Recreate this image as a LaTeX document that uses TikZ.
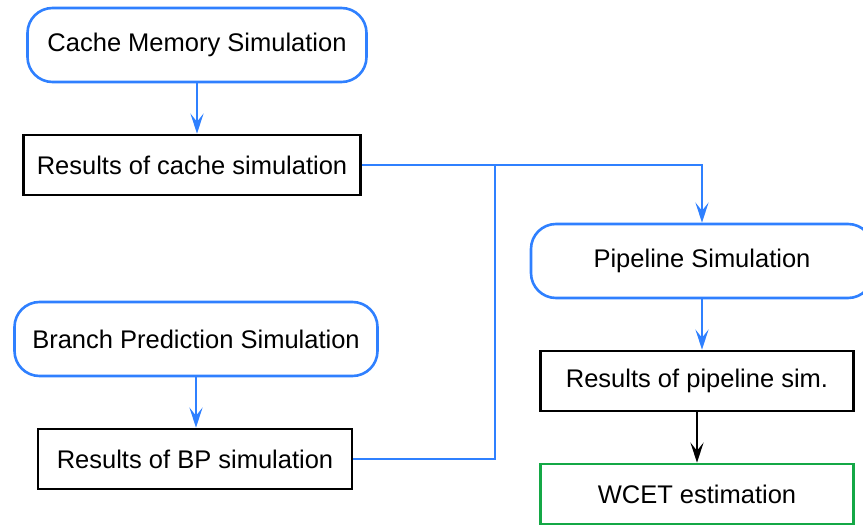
\documentclass[tikz,border=0pt]{standalone}
\usepackage{fontspec}
\setmainfont{Liberation Sans}
\usetikzlibrary{arrows.meta}
\definecolor{blulinea}{RGB}{47,128,255}
\definecolor{verdebox}{RGB}{20,168,70}
\tikzset{
	simbox/.style={draw=blulinea, line width=2.6pt, rounded corners=25pt, minimum height=74pt},
	risbox/.style={draw=black, line width=2.6pt, minimum height=60pt},
	freccia/.style={draw=blulinea, line width=2.6pt, -{Stealth[length=20pt,width=13pt,inset=8pt]}},
	linea/.style={draw=blulinea, line width=2.6pt}
}
\begin{document}
\begin{tikzpicture}[x=1pt,y=-1pt, every node/.style={font=\fontsize{25.5}{30}\selectfont, inner sep=0pt}]
			\useasboundingbox (0,0) rectangle (863,525);
			% Nodi
			\node[simbox, minimum width=339pt] (cms) at (197,45) {Cache Memory Simulation};
			\node[risbox, minimum width=337pt] (rcs) at (192,165) {Results of cache simulation};
			
			\node[simbox, minimum width=363pt] (bps) at (196,339) {Branch Prediction Simulation};
			\node[risbox, minimum width=314pt] (rbp) at (195,459) {Results of BP simulation};
			
			\node[simbox, minimum width=342pt] (pip) at (702,261) {Pipeline Simulation};
			\node[risbox, minimum width=313pt] (rps) at (697,381) {Results of pipeline sim.};
			\node[draw=verdebox, line width=2.6pt, minimum width=313pt, minimum height=60pt] (wcet) at (697,494) {WCET estimation};
			
			\coordinate (giunto) at (495,165);
			
			% Collegamenti
			\draw[freccia] (cms) -- (cms |- rcs.north);
			\draw[freccia] (bps) -- (bps |- rbp.north);
			
			\draw[freccia] (rcs.east) -| (pip.north);
			\draw[linea] (rbp.east) -| (giunto);
			
			\draw[freccia] (pip) -- (pip |- rps.north);
			\draw[line width=2.6pt, -{Stealth[length=20pt,width=13pt,inset=8pt]}] (rps) -- (wcet);

		\end{tikzpicture}
\end{document}
